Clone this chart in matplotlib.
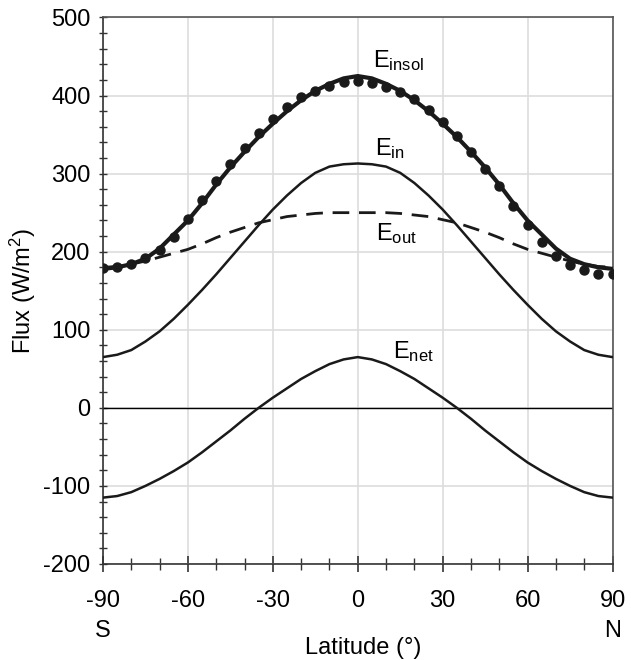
import matplotlib.pyplot as plt
from matplotlib.ticker import MultipleLocator

plt.rcParams['font.family'] = ['Liberation Sans', 'DejaVu Sans']
plt.rcParams['mathtext.default'] = 'regular'
plt.rcParams['axes.unicode_minus'] = False

lat = [-90, -85, -80, -75, -70, -65, -60, -55, -50, -45, -40, -35, -30, -25, -20, -15, -10, -5,
       0, 5, 10, 15, 20, 25, 30, 35, 40, 45, 50, 55, 60, 65, 70, 75, 80, 85, 90]

# model curves (W/m2)
e_insol = [178, 180, 184, 191, 204, 222, 240, 262, 286, 308, 328, 347, 364, 380, 394, 406, 415, 422,
           425, 422, 415, 406, 394, 380, 364, 347, 328, 308, 286, 262, 240, 222, 204, 191, 184, 180, 178]
e_in = [65, 68, 74, 85, 98, 114, 132, 151, 171, 192, 213, 234, 254, 272, 288, 301, 309, 312,
        313, 312, 309, 301, 288, 272, 254, 234, 213, 192, 171, 151, 132, 114, 98, 85, 74, 68, 65]
e_out = [180, 181, 184, 188, 193, 198, 203, 210, 218, 225, 231, 237, 241, 245, 247, 249, 250, 250,
         250, 250, 250, 249, 247, 245, 241, 237, 231, 225, 218, 210, 203, 198, 193, 188, 184, 181, 180]
e_net = [-115, -113, -108, -100, -91, -81, -70, -57, -43, -29, -14, 0, 13, 25, 37, 47, 56, 62,
         65, 62, 56, 47, 37, 25, 13, 0, -14, -29, -43, -57, -70, -81, -91, -100, -108, -113, -115]

# observed insolation points
obs_insol = [179, 181, 184, 192, 202, 219, 242, 266, 290, 312, 333, 352, 370, 385, 398, 406, 412, 417,
             419, 416, 411, 404, 395, 382, 366, 348, 328, 306, 284, 259, 234, 212, 195, 183, 176, 172, 171]

x_ticks = [-90, -60, -30, 0, 30, 60, 90]
x_tick_labels = ['-90\nS', '-60', '-30', '0', '30', '60', '90\nN']
y_ticks = [-200, -100, 0, 100, 200, 300, 400, 500]

fig = plt.figure(figsize=(6.31, 6.6), dpi=100)
ax = fig.add_axes([0.1632, 0.1455, 0.8075, 0.828])

ax.axhline(0, color='black', lw=1.0, zorder=2)
ax.plot(lat, e_insol, color='#1a1a1a', lw=3.0, zorder=4)
ax.plot(lat, obs_insol, 'o', color='#1a1a1a', ms=6.5, zorder=5)
ax.plot(lat, e_in, color='#1a1a1a', lw=1.8, zorder=3)
ax.plot(lat, e_out, color='#1a1a1a', lw=2.0, dashes=(6, 3.5), zorder=3)
ax.plot(lat, e_net, color='#1a1a1a', lw=1.8, zorder=3)

fs = 17
ax.text(5.5, 437, r'E$_{insol}$', fontsize=fs)
ax.text(6.1, 324, r'E$_{in}$', fontsize=fs)
ax.text(6.4, 215, r'E$_{out}$', fontsize=fs)
ax.text(12.4, 64, r'E$_{net}$', fontsize=fs)

ax.set_xlim(-90, 90)
ax.set_ylim(-200, 500)
ax.set_xticks(x_ticks)
ax.set_xticklabels(x_tick_labels)
ax.set_yticks(y_ticks)
ax.xaxis.set_minor_locator(MultipleLocator(10))
ax.yaxis.set_minor_locator(MultipleLocator(20))

ax.tick_params(axis='x', which='major', direction='inout', length=11.5, width=1.2,
               labelsize=fs, pad=13, color='#333333')
ax.tick_params(axis='x', which='minor', direction='inout', length=8, width=1.0, color='#333333')
ax.tick_params(axis='y', which='both', direction='inout', length=6, width=1.0,
               labelsize=fs, pad=6, color='#333333')
for lbl in ax.get_xticklabels():
    lbl.set_linespacing(1.45)

ax.grid(True, which='major', color='#dddddd', lw=1.2, zorder=0)
ax.set_axisbelow(True)
for side in ['left', 'bottom']:
    ax.spines[side].set_color('#333333')
    ax.spines[side].set_linewidth(1.2)
for side in ['top', 'right']:
    ax.spines[side].set_color('#555555')
    ax.spines[side].set_linewidth(1.2)

ax.set_xlabel('Latitude (°)', fontsize=fs, labelpad=0)
ax.xaxis.set_label_coords(0.51, -0.133)
ax.set_ylabel('Flux (W/m$^2$)', fontsize=fs, labelpad=4)

fig.savefig('out.png', dpi=100)
